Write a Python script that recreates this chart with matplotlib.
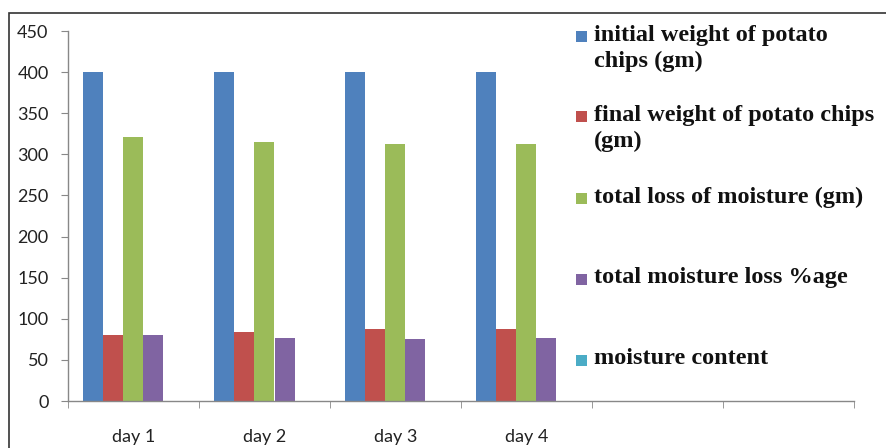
import matplotlib
matplotlib.use("Agg")
import matplotlib.pyplot as plt
import numpy as np
from matplotlib.patches import Rectangle

categories = ["day 1", "day 2", "day 3", "day 4", "", ""]
series_names = [
    "initial weight of potato\nchips (gm)",
    "final weight of potato chips\n(gm)",
    "total loss of moisture (gm)",
    "total moisture loss %age",
    "moisture content",
]
initial_weight = [400, 400, 400, 400, 0, 0]
final_weight = [80, 84, 88, 87, 0, 0]
total_loss = [321, 315, 312, 313, 0, 0]
loss_pct = [80, 77, 76, 77, 0, 0]
moisture_content = [0, 0, 0, 0, 0, 0]
series_values = [initial_weight, final_weight, total_loss, loss_pct, moisture_content]
colors = ["#4F81BD", "#C0504D", "#9BBB59", "#8064A2", "#4BACC6"]
yticks = [0, 50, 100, 150, 200, 250, 300, 350, 400, 450]

W, H = 887, 448
fig = plt.figure(figsize=(W / 100, H / 100), dpi=100)
ax = fig.add_axes([68 / W, 1 - 401 / H, (854 - 68) / W, (401 - 31) / H])

n = len(categories)
x = np.arange(n)
bw = 20 / 131
for i, (vals, c) in enumerate(zip(series_values, colors)):
    offs = (i - 2) * bw
    ax.bar(x + offs, vals, width=bw, color=c, edgecolor="none", zorder=2)

ax.set_xlim(-0.5, n - 0.5)
ax.set_ylim(0, 450)
ax.set_yticks(yticks)
ax.set_yticklabels([str(t) for t in yticks], fontfamily="Lato", fontsize=13, color="#222222")
ax.set_xticks(x)
ax.set_xticklabels(categories, fontfamily="Lato", fontsize=13, color="#222222")
ax.tick_params(axis="x", length=0, pad=20)
ax.set_xticks(np.arange(n + 1) - 0.5, minor=True)
ax.tick_params(axis="x", which="minor", length=5, color="#888888", direction="out")
ax.tick_params(axis="y", length=5, color="#888888", direction="out", pad=9)
for s in ["top", "right"]:
    ax.spines[s].set_visible(False)
for s in ["left", "bottom"]:
    ax.spines[s].set_color("#888888")
    ax.spines[s].set_linewidth(1.0)

# outer frame
fig.patches.append(Rectangle((9 / W, -0.05), 1.2, 1 - 13 / H + 0.05, transform=fig.transFigure,
                             fill=False, edgecolor="#333333", linewidth=1.2))

# legend
sq_y = [37, 117, 199, 279, 360]
for name, c, yc in zip(series_names, colors, sq_y):
    fig.patches.append(Rectangle((576 / W, 1 - (yc + 5.5) / H), 11 / W, 11 / H,
                                 transform=fig.transFigure, facecolor=c, edgecolor="none"))
    fig.text(594 / W, 1 - (yc - 12) / H, name, fontfamily="Liberation Serif", fontweight="bold",
             fontsize=17.5, va="top", ha="left", color="#111111", linespacing=1.3)

fig.savefig("out.png", dpi=100)
